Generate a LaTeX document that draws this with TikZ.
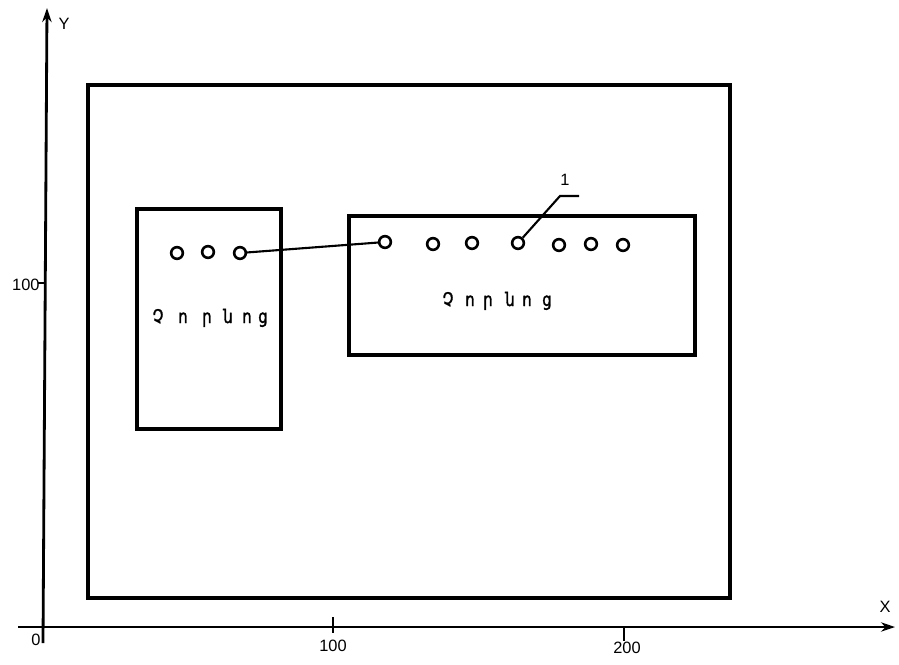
\documentclass[tikz,border=0pt]{standalone}
\usepackage{fontspec}
\setmainfont{Liberation Sans}
\newfontfamily\armfont[FakeStretch=0.8,FakeBold=1.5]{DejaVu Sans}
\usetikzlibrary{arrows.meta}
\tikzset{
  axis/.style={line width=2.4pt, -{Stealth[length=12pt,width=8pt]}},
  frame/.style={draw, line width=3pt},
  box/.style={draw, line width=2.8pt},
  hole/.style={circle, draw, line width=2.2pt, minimum size=10pt, inner sep=0pt},
  lbl/.style={font=\fontsize{14}{15}\selectfont, inner sep=1pt},
  arm/.style={font=\armfont\fontsize{16}{17}\selectfont, inner sep=0pt, anchor=base},
  thin/.style={line width=1.8pt}
}
\begin{document}
\begin{tikzpicture}[x=0.03cm, y=-0.03cm]
\useasboundingbox (0,0) rectangle (899,664);
% axes
\coordinate (ybot) at (43,643);
\coordinate (ytop) at (47,8);
\coordinate (xleft) at (18,627);
\coordinate (xright) at (895,627);
\draw[axis] (ybot) -- (ytop);
\draw[axis] (xleft) -- (xright);
\node[lbl] (ylab) at (64,24) {Y};
\node[lbl] (xlab) at (885,607) {X};
\node[lbl] (o) at (36,640) {0};
% ticks
\coordinate (tx1a) at (333,617);
\coordinate (tx1b) at (333,633);
\draw[line width=2pt] (tx1a) -- (tx1b);
\node[lbl] (x100) at (333,646) {100};
\coordinate (tx2a) at (624,627);
\coordinate (tx2b) at (624,641);
\draw[line width=2pt] (tx2a) -- (tx2b);
\node[lbl] (x200) at (627,648) {200};
\coordinate (ty1a) at (38,283);
\coordinate (ty1b) at (45,283);
\draw[line width=2pt] (ty1a) -- (ty1b);
\node[lbl, anchor=east] (y100) at (41,285) {100};
% frames
\draw[frame] (88,85) rectangle (730,598);
\draw[box] (137,209) rectangle (281,429);
\draw[box] (349,216) rectangle (695,355);
% holes left
\node[hole] (a1) at (177,253) {};
\node[hole] (a2) at (208,252) {};
\node[hole] (a3) at (240,253) {};
% holes right
\node[hole] (b1) at (385,242) {};
\node[hole] (b2) at (433,244) {};
\node[hole] (b3) at (472,243) {};
\node[hole] (b4) at (518,243) {};
\node[hole] (b5) at (559,245) {};
\node[hole] (b6) at (591,244) {};
\node[hole] (b7) at (623,245) {};
% connection
\draw[thin] (a3) -- (b1);
% leader
\coordinate (lk) at (560,196);
\coordinate (le) at (579,196);
\draw[thin] (b4) -- (lk) -- (le);
\node[lbl] (one) at (565,180) {1};
% texts
\foreach \ch/\xx [count=\i] in {Չ/158, ո/183, ր/207, ն/228, ո/247, ց/263}
  \node[arm] (l\i) at (\xx,323) {\ch};
\foreach \ch/\xx [count=\i] in {Չ/448, ո/470, ր/488, ն/510, ո/527, ց/547}
  \node[arm] (r\i) at (\xx,306) {\ch};
\end{tikzpicture}
\end{document}
